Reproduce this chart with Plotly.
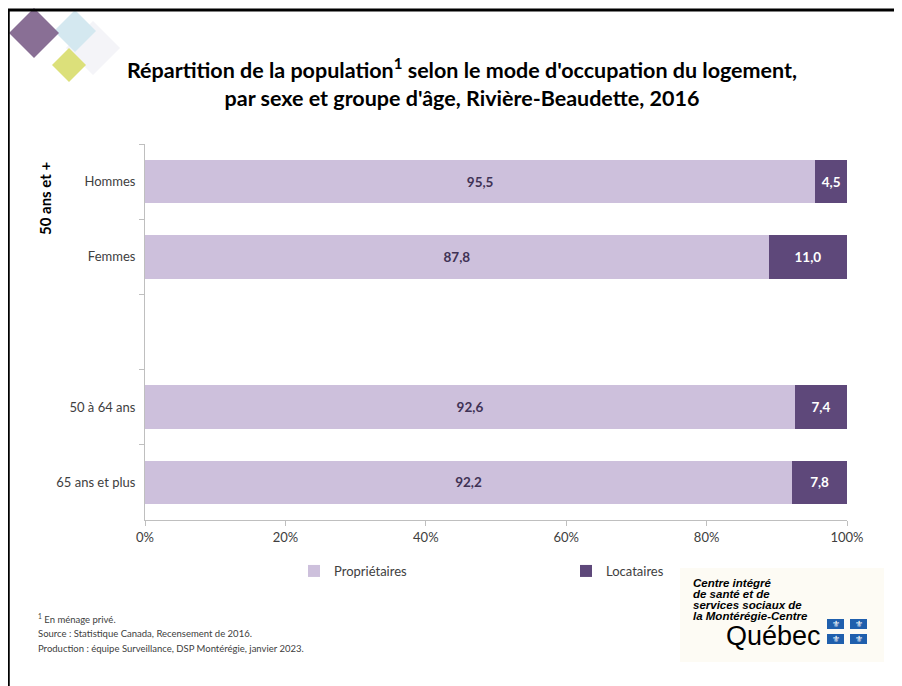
import plotly.graph_objects as go

# ---- data ----
categories = ["Hommes", "Femmes", " ", "50 à 64 ans", "65 ans et plus"]
proprietaires = [95.5, 87.8, None, 92.6, 92.2]
locataires = [4.5, 11.0, None, 7.4, 7.8]
x_ticks = [0, 20, 40, 60, 80, 100]
x_tick_labels = ["0%", "20%", "40%", "60%", "80%", "100%"]
group_label = "50 ans et +"
series_names = ["Propriétaires", "Locataires"]

# 100% stacked: normalise each row
def share(v, other):
    if v is None or other is None:
        return None
    return v / (v + other) * 100

prop_pct = [share(p, l) for p, l in zip(proprietaires, locataires)]
loc_pct = [share(l, p) for p, l in zip(proprietaires, locataires)]

def fmt(v):
    return "" if v is None else f"{v:.1f}".replace(".", ",")

OFF = 8  # page body margin
W, H = 902 - OFF, 686 - OFF
L, R, T, B = 145, 847, 144, 520  # plot area in page pixels

def X(px):
    return (px - L) / (R - L)

def Y(py):
    return (B - py) / (B - T)

LIGHT = "#CDC0DC"
DARK = "#5E487A"
TXT = "#404040"
FONT = "Lato"

fig = go.Figure()
fig.add_trace(go.Bar(
    y=categories, x=prop_pct, orientation="h", name=series_names[0],
    marker=dict(color=LIGHT, line=dict(width=0)), width=0.58,
    text=[fmt(v) for v in proprietaires], textposition="inside",
    insidetextanchor="middle", textangle=0, constraintext="none",
    textfont=dict(color="#403255", size=13.5, family=FONT, weight="bold"),
    hoverinfo="skip", legend="legend", showlegend=True,
))
fig.add_trace(go.Bar(
    y=categories, x=loc_pct, orientation="h", name=series_names[1],
    marker=dict(color=DARK, line=dict(width=0)), width=0.58,
    text=[fmt(v) for v in locataires], textposition="inside",
    insidetextanchor="middle", textangle=0, constraintext="none",
    textfont=dict(color="white", size=13.5, family=FONT, weight="bold"),
    hoverinfo="skip", legend="legend2", showlegend=True,
))

shapes = []
# frame
shapes.append(dict(type="line", xref="paper", yref="paper", x0=X(6), x1=X(910), y0=Y(10), y1=Y(10),
                   line=dict(color="black", width=3), layer="above"))
shapes.append(dict(type="line", xref="paper", yref="paper", x0=X(8.5), x1=X(8.5), y0=Y(9), y1=Y(700),
                   line=dict(color="black", width=2.5), layer="above"))

def diamond(cx, cy, h, color, opacity=1.0):
    pts = [(cx, cy - h), (cx + h, cy), (cx, cy + h), (cx - h, cy)]
    path = "M " + " L ".join(f"{X(a):.5f},{Y(b):.5f}" for a, b in pts) + " Z"
    return dict(type="path", xref="paper", yref="paper", path=path, fillcolor=color,
                line=dict(width=0), opacity=opacity, layer="below")

shapes.append(diamond(93, 48, 27, "#F4F4F8"))
shapes.append(diamond(75, 31, 21, "#D4E8F0"))
shapes.append(diamond(34, 33, 25, "#83678F", 0.95))
shapes.append(diamond(69, 65, 17, "#DCE07A"))

# logo background
shapes.append(dict(type="rect", xref="paper", yref="paper", x0=X(680), x1=X(884), y0=Y(568), y1=Y(662),
                   fillcolor="#FDFBF4", line=dict(width=0), layer="below"))
annotations = []
flag_boxes = [(827, 619), (850, 619), (827, 634), (850, 634)]
for fx, fy in flag_boxes:
    shapes.append(dict(type="rect", xref="paper", yref="paper", x0=X(fx), x1=X(fx + 17), y0=Y(fy), y1=Y(fy + 10),
                       fillcolor="#1F5FAD", line=dict(width=0)))
    annotations.append(dict(xref="paper", yref="paper", x=X(fx + 8.5), y=Y(fy + 5), text="⚜",
                            showarrow=False, font=dict(color="white", size=9, family="DejaVu Sans"),
                            xanchor="center", yanchor="middle"))

logo_lines = ["Centre intégré", "de santé et de", "services sociaux de", "la Montérégie-Centre"]
for i, t in enumerate(logo_lines):
    annotations.append(dict(xref="paper", yref="paper", x=X(691), y=Y(583 + 11 * i), text=f"<b><i>{t}</i></b>",
                            showarrow=False, font=dict(color="black", size=11.5, family="Liberation Sans"),
                            xanchor="left", yanchor="middle"))
annotations.append(dict(xref="paper", yref="paper", x=X(773), y=Y(636), text="Québec",
                        showarrow=False, font=dict(color="black", size=27, family="Liberation Sans"),
                        xanchor="center", yanchor="middle"))

# group label
annotations.append(dict(xref="paper", yref="paper", x=X(45), y=Y(198), text=f"<b>{group_label}</b>",
                        textangle=-90, showarrow=False, font=dict(color="black", size=15, family=FONT),
                        xanchor="center", yanchor="middle"))

# footnotes
foot = ["<sup>1</sup> En ménage privé.",
        "Source : Statistique Canada, Recensement de 2016.",
        "Production : équipe Surveillance, DSP Montérégie, janvier 2023."]
for i, t in enumerate(foot):
    annotations.append(dict(xref="paper", yref="paper", x=X(36), y=Y(618 + 15 * i), text=t,
                            showarrow=False, font=dict(color=TXT, size=9.5, family=FONT),
                            xanchor="left", yanchor="middle"))

fig.update_layout(
    width=W, height=H,
    margin=dict(l=L - OFF, r=W - (R - OFF), t=T - OFF, b=H - (B - OFF), pad=0),
    paper_bgcolor="white", plot_bgcolor="white",
    barmode="stack", bargap=0.42, showlegend=True,
    title=dict(text="Répartition de la population<sup>1</sup> selon le mode d'occupation du logement,<br>"
                    "par sexe et groupe d'âge, Rivière-Beaudette, 2016",
               x=(462 - OFF) / W, xanchor="center", y=1 - (78 - OFF) / H, yanchor="middle",
               font=dict(family=FONT, size=21.5, color="black", weight="bold")),
    xaxis=dict(range=[0, 100], tickvals=x_ticks, ticktext=x_tick_labels, showgrid=False,
               zeroline=False, showline=True, linecolor="#BFBFBF", linewidth=1,
               ticks="outside", ticklen=5, tickcolor="#BFBFBF",
               tickfont=dict(family=FONT, size=13, color=TXT), fixedrange=True),
    yaxis=dict(type="category", categoryorder="array", categoryarray=categories,
               range=[4.5, -0.5], showgrid=False, zeroline=False, showline=True,
               linecolor="#BFBFBF", linewidth=1, ticks="outside", ticklen=5, tickcolor="#BFBFBF",
               tickson="boundaries", ticklabelstandoff=6,
               tickfont=dict(family=FONT, size=13, color=TXT), fixedrange=True),
    legend=dict(orientation="h", x=X(294), y=Y(571), xanchor="left", yanchor="middle",
                font=dict(family=FONT, size=13, color=TXT), bgcolor="rgba(0,0,0,0)"),
    legend2=dict(orientation="h", x=X(566), y=Y(571), xanchor="left", yanchor="middle",
                 font=dict(family=FONT, size=13, color=TXT), bgcolor="rgba(0,0,0,0)"),
    shapes=shapes, annotations=annotations,
)

fig.write_html("out.html")
